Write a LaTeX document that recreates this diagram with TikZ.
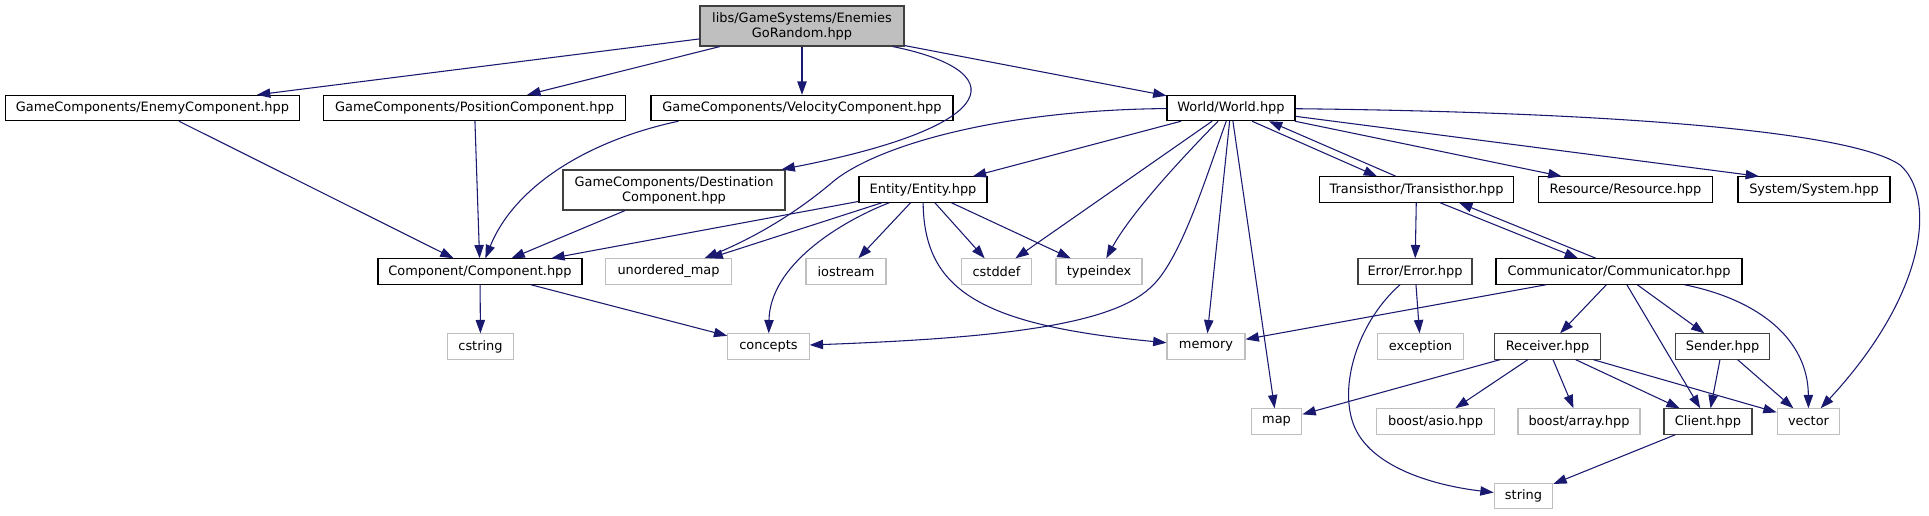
\documentclass[tikz,border=0pt]{standalone}
\usepackage{fontspec}
\setmainfont{DejaVu Sans}
\usepackage{tikz}
\usetikzlibrary{arrows.meta, positioning}
\definecolor{linkblue}{HTML}{191970}
\definecolor{nodocgrey}{HTML}{404040}
\definecolor{sysgrey}{HTML}{BFBFBF}

\begin{document}
\begin{tikzpicture}[
    x=0.75pt, y=-0.75pt,
    box/.style={rectangle, draw, line width=0.8pt, inner sep=0pt, minimum height=19pt,
                align=center, font=\fontsize{9.7}{11.25}\selectfont},
    doc/.style={box, draw=black},
    nodoc/.style={box, draw=nodocgrey},
    sys/.style={box, draw=sysgrey},
    root/.style={box, fill=sysgrey, draw=nodocgrey, minimum height=30pt},
    arr/.style={-{Triangle[length=10pt, width=7pt]}, line width=0.8pt, linkblue},
  ]
  \useasboundingbox[fill=white] (0,0) rectangle (1929,515);
  \node[root, minimum width=153pt] (enemiesgorandom) at (802,26) {libs/GameSystems/Enemies\\GoRandom.hpp};
  \node[doc, minimum width=221pt] (enemycomp) at (152.5,108) {GameComponents/EnemyComponent.hpp};
  \node[doc, minimum width=227pt] (positioncomp) at (474.5,108) {GameComponents/PositionComponent.hpp};
  \node[doc, minimum width=226.5pt] (velocitycomp) at (802,108) {GameComponents/VelocityComponent.hpp};
  \node[doc, minimum width=96pt] (world) at (1231,108) {World/World.hpp};
  \node[nodoc, minimum width=166.5pt, minimum height=30pt] (destcomp) at (674,190) {GameComponents/Destination\\Component.hpp};
  \node[doc, minimum width=96pt] (entity) at (923,189.5) {Entity/Entity.hpp};
  \node[doc, minimum width=146pt] (transisthor) at (1416.5,189.5) {Transisthor/Transisthor.hpp};
  \node[doc, minimum width=131pt] (resource) at (1625.5,189.5) {Resource/Resource.hpp};
  \node[doc, minimum width=114pt] (system) at (1814,189.5) {System/System.hpp};
  \node[doc, minimum width=153pt] (component) at (480,271.5) {Component/Component.hpp};
  \node[sys, minimum width=94pt] (umap) at (668.5,271.5) {unordered\_map};
  \node[sys, minimum width=60pt] (iostream) at (846,271.5) {iostream};
  \node[sys, minimum width=53pt] (cstddef) at (996.5,271.5) {cstddef};
  \node[sys, minimum width=64.5pt] (typeindex) at (1099,271.5) {typeindex};
  \node[nodoc, minimum width=85.5pt] (error) at (1415,271.5) {Error/Error.hpp};
  \node[doc, minimum width=184.5pt] (communicator) at (1619,271.5) {Communicator/Communicator.hpp};
  \node[sys, minimum width=50pt] (cstring) at (480.5,346.5) {cstring};
  \node[sys, minimum width=61pt] (concepts) at (768.5,346.5) {concepts};
  \node[sys, minimum width=58.5pt] (memory) at (1206,346.5) {memory};
  \node[sys, minimum width=65pt] (exception) at (1420.5,346.5) {exception};
  \node[nodoc, minimum width=80pt] (receiver) at (1547.5,346.5) {Receiver.hpp};
  \node[nodoc, minimum width=71pt] (sender) at (1722.5,346.5) {Sender.hpp};
  \node[sys, minimum width=38pt] (map) at (1276.5,421.5) {map};
  \node[sys, minimum width=88pt] (asio) at (1435.5,421.5) {boost/asio.hpp};
  \node[sys, minimum width=91.5pt] (array) at (1579,421.5) {boost/array.hpp};
  \node[nodoc, minimum width=66pt] (client) at (1708,421.5) {Client.hpp};
  \node[sys, minimum width=47pt] (vector) at (1808.5,421.5) {vector};
  \node[sys, minimum width=44pt] (string) at (1523.5,496) {string};
  \draw[arr] (enemiesgorandom) -- (enemycomp);
  \draw[arr] (enemiesgorandom) -- (positioncomp);
  \draw[arr] (enemiesgorandom) -- (velocitycomp);
  \draw[arr] (enemiesgorandom) -- (world);
  \draw[arr] ([xshift=-9pt]enemiesgorandom.south east) .. controls (1010,70) and (1010,125) .. ([xshift=-3pt]destcomp.north east);
  \draw[arr] (enemycomp) -- (component);
  \draw[arr] (positioncomp) -- (component);
  \draw[arr] ([xshift=21pt]velocitycomp.south west) .. controls (590,140) and (515,185) .. (component);
  \draw[arr] (destcomp) -- (component);
  \draw[arr] (world) -- (entity);
  \draw[arr] (world) .. controls (1000,110) and (880,145) .. (835,180) .. controls (800,210) and (760,235) .. ([xshift=27pt]umap.north);
  \draw[arr] (world) -- (cstddef);
  \draw[arr] (world) .. controls (1175,165) and (1130,215) .. (typeindex);
  \draw[arr] (world) .. controls (1205,180) and (1180,262) .. (1150,288) .. controls (1110,325) and (1000,338) .. (concepts);
  \draw[arr] (world) -- (memory);
  \draw[arr] (world) -- (map);
  \draw[arr] ([xshift=15.75pt]world.south) -- ([xshift=-29.6pt]transisthor.north);
  \draw[arr] ([xshift=-15.4pt]transisthor.north) -- ([xshift=28.5pt]world.south);
  \draw[arr] (world) -- (resource);
  \draw[arr] (world) -- ([xshift=-41.25pt]system.north);
  \draw[arr] (world) .. controls (1600,112) and (1850,130) .. (1900,165) .. controls (1935,195) and (1930,290) .. (vector);
  \draw[arr] (entity) -- (component);
  \draw[arr] (entity) -- (umap);
  \draw[arr] (entity) .. controls (840,222) and (770,265) .. (concepts);
  \draw[arr] (entity) -- (iostream);
  \draw[arr] (entity) -- (cstddef);
  \draw[arr] (entity) -- (typeindex);
  \draw[arr] (entity) .. controls (924,290) and (980,325) .. (memory);
  \draw[arr] (component) -- (cstring);
  \draw[arr] (component) -- (concepts);
  \draw[arr] (transisthor) -- (error);
  \draw[arr] ([xshift=17.6pt]transisthor.south) -- ([xshift=-30.75pt]communicator.north);
  \draw[arr] ([xshift=-17.25pt]communicator.north) -- ([xshift=31.9pt]transisthor.south);
  \draw[arr] (error) -- (exception);
  \draw[arr] (error) .. controls (1360,320) and (1340,380) .. (1352,420) .. controls (1365,465) and (1430,485) .. (string);
  \draw[arr] (communicator) -- (memory);
  \draw[arr] (communicator) -- (receiver);
  \draw[arr] (communicator) -- (client);
  \draw[arr] (communicator) -- (sender);
  \draw[arr] (communicator) .. controls (1760,300) and (1808,340) .. (vector);
  \draw[arr] (receiver) -- (map);
  \draw[arr] (receiver) -- (asio);
  \draw[arr] (receiver) -- (array);
  \draw[arr] (receiver) -- (client);
  \draw[arr] (receiver) -- (vector);
  \draw[arr] (sender) -- (client);
  \draw[arr] (sender) -- (vector);
  \draw[arr] (client) -- (string);
\end{tikzpicture}
\end{document}
